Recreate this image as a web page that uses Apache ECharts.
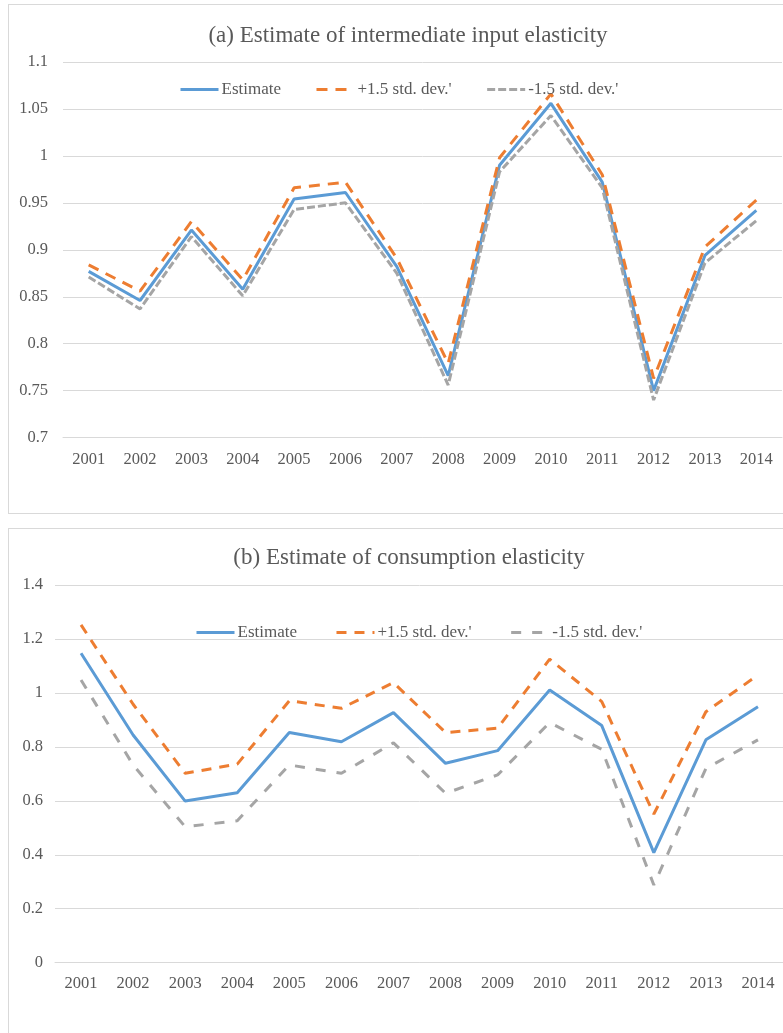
<!DOCTYPE html>
<html>
<head>
<meta charset="utf-8">
<script src="https://cdn.jsdelivr.net/npm/echarts@6/dist/echarts.min.js"></script>
<style>
html,body{margin:0;padding:0;background:#fff;overflow:hidden;width:783px;height:1033px;}
.panel{position:absolute;border:1px solid #D9D9D9;box-sizing:border-box;background:#fff;}
#c1{left:8px;top:4px;width:800px;height:510px;}
#c2{left:8px;top:528px;width:800px;height:520px;}
</style>
</head>
<body>
<div id="c1" class="panel"></div>
<div id="c2" class="panel"></div>
<script>
const years = ['2001','2002','2003','2004','2005','2006','2007','2008','2009','2010','2011','2012','2013','2014'];
const seriesNames = ['Estimate', "+1.5 std. dev.'", "-1.5 std. dev.'"];

// (a) intermediate input elasticity
const interEstimate = [0.877,0.846,0.921,0.858,0.954,0.961,0.882,0.766,0.990,1.056,0.972,0.750,0.894,0.942];
const interUpper    = [0.884,0.856,0.930,0.868,0.966,0.972,0.891,0.779,0.998,1.066,0.980,0.763,0.903,0.953];
const interLower    = [0.871,0.837,0.914,0.851,0.943,0.950,0.875,0.756,0.983,1.043,0.966,0.740,0.886,0.931];

// (b) consumption elasticity
const consEstimate = [1.147,0.844,0.599,0.630,0.853,0.819,0.927,0.739,0.786,1.011,0.879,0.408,0.826,0.949];
const consUpper    = [1.252,0.958,0.702,0.736,0.971,0.943,1.038,0.853,0.869,1.125,0.968,0.551,0.930,1.066];
const consLower    = [1.048,0.733,0.504,0.526,0.733,0.702,0.815,0.628,0.696,0.890,0.791,0.288,0.720,0.826];

const FONT = '"Liberation Serif","Times New Roman",serif';
const TXT = '#595959';
const BLUE = '#5B9BD5', ORANGE = '#ED7D31', GRAY = '#A5A5A5';

function fmt(v){ return String(parseFloat(v.toFixed(3))); }

function makeOption(cfg){
  return {
    animation:false,
    textStyle:{fontFamily:FONT},
    title:{
      text:cfg.title, left:cfg.titleX, top:cfg.titleY, textAlign:'center',
      textStyle:{fontFamily:FONT, fontSize:23, fontWeight:'normal', color:TXT}
    },
    legend:{
      left:cfg.legendLeft, top:cfg.legendTop, itemWidth:38, itemHeight:14, itemGap:cfg.legendGap,
      itemStyle:{opacity:0, borderWidth:0},
      lineStyle:{width:3},
      textStyle:{fontFamily:FONT, fontSize:17, color:TXT, padding:[0,0,0,-2]},
      data:seriesNames
    },
    grid:{left:cfg.gridLeft, top:cfg.gridTop, width:cfg.gridWidth, height:cfg.gridHeight},
    xAxis:{
      type:'category', data:years, boundaryGap:true,
      axisLine:{show:true, lineStyle:{color:'#D9D9D9', width:1}},
      axisTick:{show:false},
      axisLabel:{fontFamily:FONT, fontSize:16.5, color:TXT, margin:cfg.xMargin}
    },
    yAxis:{
      type:'value', min:cfg.min, max:cfg.max, interval:cfg.interval,
      axisLine:{show:false}, axisTick:{show:false},
      splitLine:{lineStyle:{color:'#D9D9D9', width:1}},
      axisLabel:{fontFamily:FONT, fontSize:16.5, color:TXT, margin:cfg.yMargin, formatter:fmt}
    },
    series:[
      {name:seriesNames[0], type:'line', data:cfg.est, symbol:'none', lineStyle:{color:BLUE, width:3}, itemStyle:{color:BLUE}},
      {name:seriesNames[1], type:'line', data:cfg.up, symbol:'none', lineStyle:{color:ORANGE, width:3, type:cfg.upDash}, itemStyle:{color:ORANGE}},
      {name:seriesNames[2], type:'line', data:cfg.lo, symbol:'none', lineStyle:{color:GRAY, width:3, type:cfg.loDash}, itemStyle:{color:GRAY}}
    ]
  };
}

const c1 = echarts.init(document.getElementById('c1'), null, {renderer:'canvas'});
c1.setOption(makeOption({
  title:'(a) Estimate of intermediate input elasticity', titleX:394, titleY:14,
  legendLeft:165, legendTop:71, legendGap:34,
  gridLeft:54, gridTop:57, gridWidth:719, gridHeight:375.6,
  min:0.7, max:1.1, interval:0.05, xMargin:14, yMargin:15,
  est:interEstimate, up:interUpper, lo:interLower,
  upDash:[11,8], loDash:[8,3]
}));

const c2 = echarts.init(document.getElementById('c2'), null, {renderer:'canvas'});
c2.setOption(makeOption({
  title:'(b) Estimate of consumption elasticity', titleX:395, titleY:12,
  legendLeft:181, legendTop:90, legendGap:38,
  gridLeft:46, gridTop:56, gridWidth:729, gridHeight:377.7,
  min:0, max:1.4, interval:0.2, xMargin:12, yMargin:12,
  est:consEstimate, up:consUpper, lo:consLower,
  upDash:[10,8], loDash:[10,11]
}));
</script>
</body>
</html>
